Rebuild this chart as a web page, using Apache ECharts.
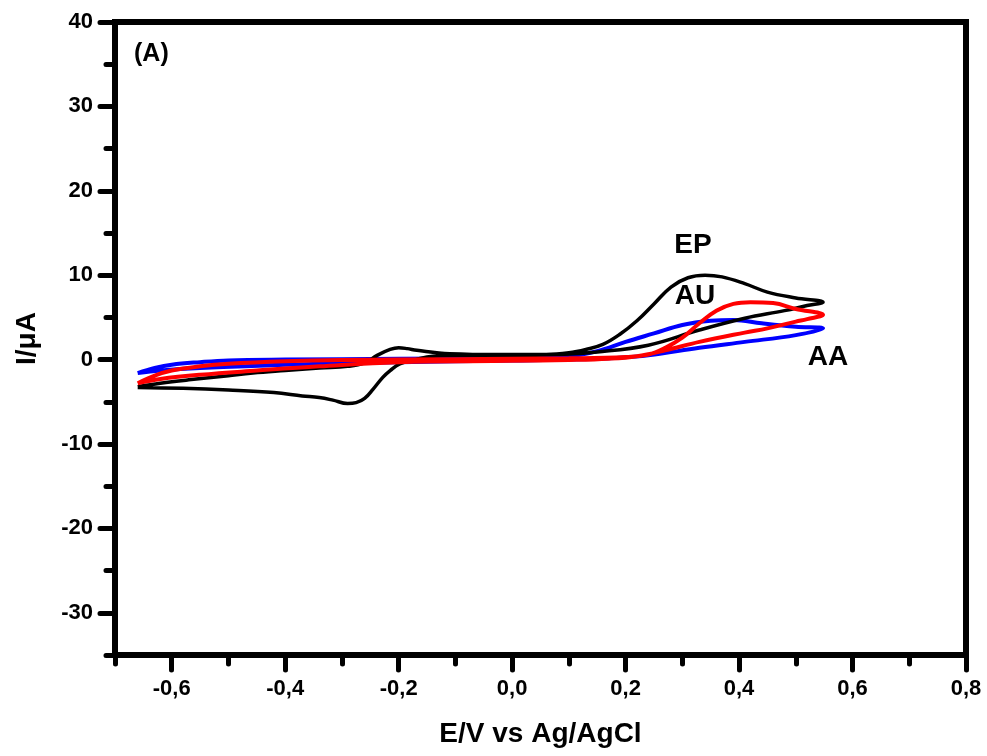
<!DOCTYPE html>
<html>
<head>
<meta charset="utf-8">
<script src="https://cdn.jsdelivr.net/npm/echarts@6/dist/echarts.min.js"></script>
<style>
  html, body { margin: 0; padding: 0; background: #fff; }
  #chart { width: 987px; height: 756px; }
</style>
</head>
<body>
<div id="chart"></div>
<script>
// cyclic voltammograms, [E (V), I (uA)] – upper branch left->right, then lower branch back
var epLoop = [
  [-0.66,-3.2],[-0.62,-2.8],[-0.57,-2.4],[-0.5,-1.9],[-0.457,-1.6],[-0.4,-1.3],[-0.34,-1.0],
  [-0.29,-0.8],[-0.26,-0.4],[-0.238,0.5],[-0.215,1.2],[-0.2,1.4],[-0.185,1.3],[-0.168,1.1],
  [-0.11,0.7],[-0.02,0.6],[0.06,0.6],[0.1,0.8],[0.13,1.2],[0.16,1.8],[0.19,3.0],[0.22,4.6],
  [0.25,6.6],[0.28,8.6],[0.31,9.7],[0.34,10.0],[0.37,9.8],[0.41,9.0],[0.45,8.0],[0.5,7.3],
  [0.548,6.8],
  [0.52,6.4],[0.48,5.8],[0.41,4.9],[0.33,3.5],[0.24,1.7],[0.15,0.9],[0.08,0.6],[0.0,0.5],
  [-0.1,0.5],[-0.14,0.4],[-0.17,0.0],[-0.198,-0.5],[-0.215,-1.3],[-0.228,-2.1],[-0.245,-3.5],
  [-0.26,-4.6],[-0.275,-5.1],[-0.29,-5.2],[-0.316,-4.8],[-0.34,-4.5],[-0.37,-4.3],[-0.42,-3.9],
  [-0.5,-3.6],[-0.58,-3.4],[-0.66,-3.3]
];
var auLoop = [
  [-0.66,-2.8],[-0.63,-1.9],[-0.6,-1.3],[-0.55,-0.8],[-0.5,-0.5],[-0.4,-0.2],[-0.3,-0.05],
  [-0.1,0.05],[0.1,0.15],[0.2,0.3],[0.24,0.6],[0.27,1.4],[0.3,2.6],[0.33,4.3],[0.36,5.8],
  [0.39,6.6],[0.42,6.8],[0.46,6.7],[0.5,6.0],[0.548,5.3],
  [0.52,4.8],[0.5,4.5],[0.45,3.7],[0.41,3.2],[0.33,2.1],[0.27,1.1],[0.22,0.4],[0.17,0.1],
  [0.1,-0.05],[0.0,-0.15],[-0.2,-0.3],[-0.34,-0.8],[-0.45,-1.3],[-0.55,-1.8],[-0.62,-2.3],
  [-0.66,-2.8]
];
var aaLoop = [
  [-0.66,-1.6],[-0.63,-1.0],[-0.6,-0.6],[-0.55,-0.3],[-0.5,-0.1],[-0.4,0.0],[-0.2,0.1],
  [0.0,0.2],[0.1,0.4],[0.15,1.0],[0.2,2.1],[0.25,3.1],[0.3,4.1],[0.35,4.6],[0.39,4.7],
  [0.44,4.3],[0.5,3.9],[0.548,3.7],
  [0.5,2.9],[0.41,2.1],[0.33,1.4],[0.24,0.5],[0.18,0.2],[0.1,0.0],[0.0,-0.1],[-0.2,-0.3],
  [-0.4,-0.6],[-0.55,-1.0],[-0.62,-1.3],[-0.66,-1.6]
];

var xMajor = [-0.6,-0.4,-0.2,0,0.2,0.4,0.6,0.8];
var yMajor = [-30,-20,-10,0,10,20,30,40];

var FONT = '"Liberation Sans", Arial, sans-serif';

var chart = echarts.init(document.getElementById('chart'));

function fmtX(v){
  return (+v).toFixed(1).replace('.', ',');
}

var option = {
  backgroundColor: '#fff',
  animation: false,
  grid: {
    left: 115, right: 21, top: 22, bottom: 101,
    outerBoundsMode: 'none', containLabel: false,
    show: true, borderWidth: 6, borderColor: '#000'
  },
  xAxis: [
    {
      type: 'value', min: -0.7, max: 0.8, interval: 0.1,
      splitLine: {show: false},
      axisLine: {onZero: false, lineStyle: {color: '#000', width: 6}},
      axisTick: {length: 9, lineStyle: {color: '#000', width: 5, cap: 'round'}},
      axisLabel: {show: false}
    },
    {
      type: 'value', min: -0.7, max: 0.8, position: 'bottom', offset: 0,
      splitLine: {show: false},
      axisLine: {show: false, onZero: false},
      axisTick: {length: 15, customValues: xMajor, lineStyle: {color: '#000', width: 5, cap: 'round'}},
      axisLabel: {
        customValues: xMajor, margin: 23, formatter: fmtX,
        color: '#000', fontSize: 22, fontWeight: 'bold', fontFamily: FONT
      },
      name: 'E/V vs Ag/AgCl', nameLocation: 'middle', nameGap: 65,
      nameTextStyle: {color: '#000', fontSize: 28, fontWeight: 'bold', fontFamily: FONT}
    }
  ],
  yAxis: [
    {
      type: 'value', min: -35, max: 40, interval: 5,
      splitLine: {show: false},
      axisLine: {onZero: false, lineStyle: {color: '#000', width: 6}},
      axisTick: {length: 9, lineStyle: {color: '#000', width: 5, cap: 'round'}},
      axisLabel: {show: false}
    },
    {
      type: 'value', min: -35, max: 40, position: 'left', offset: 0,
      splitLine: {show: false},
      axisLine: {show: false, onZero: false},
      axisTick: {length: 15, customValues: yMajor, lineStyle: {color: '#000', width: 5, cap: 'round'}},
      axisLabel: {
        customValues: yMajor, margin: 22,
        color: '#000', fontSize: 22, fontWeight: 'bold', fontFamily: FONT
      },
      name: 'I/\u03bcA', nameLocation: 'middle', nameGap: 74,
      nameTextStyle: {color: '#000', fontSize: 28, fontWeight: 'bold', fontFamily: FONT}
    }
  ],
  series: [
    {name: 'AA', type: 'line', data: aaLoop, smooth: 0.4, showSymbol: false,
     lineStyle: {color: '#0000ff', width: 4}},
    {name: 'EP', type: 'line', data: epLoop, smooth: 0.4, showSymbol: false,
     lineStyle: {color: '#000000', width: 3.5}},
    {name: 'AU', type: 'line', data: auLoop, smooth: 0.4, showSymbol: false,
     lineStyle: {color: '#ff0000', width: 4}}
  ],
  graphic: [
    {type: 'text', left: 134, top: 42, style: {text: '(A)', fill: '#000', font: 'bold 25px ' + FONT}},
    {type: 'text', x: 693, y: 245, style: {text: 'EP', fill: '#000', font: 'bold 28px ' + FONT, align: 'center', verticalAlign: 'middle'}},
    {type: 'text', x: 695, y: 296, style: {text: 'AU', fill: '#000', font: 'bold 28px ' + FONT, align: 'center', verticalAlign: 'middle'}},
    {type: 'text', x: 828, y: 357, style: {text: 'AA', fill: '#000', font: 'bold 28px ' + FONT, align: 'center', verticalAlign: 'middle'}}
  ]
};

chart.setOption(option);
</script>
</body>
</html>
